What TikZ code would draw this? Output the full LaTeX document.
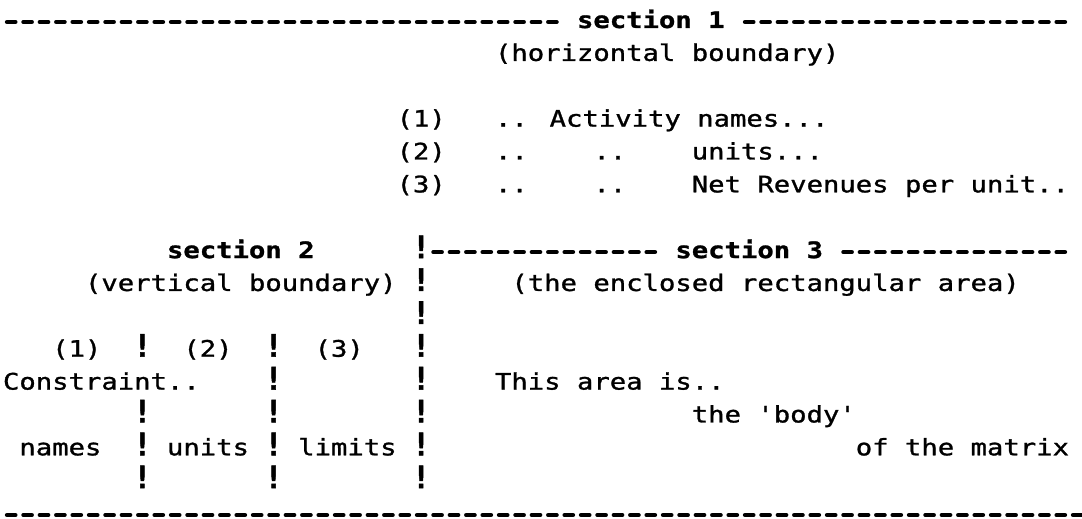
\documentclass[tikz,border=0pt]{standalone}
\usepackage{fontspec}
\newfontfamily\dmono[FakeStretch=1.2, FakeBold=1.2]{DejaVu Sans Mono}
\newfontfamily\dbang[FakeBold=1.5]{DejaVu Sans Mono Bold}
\newcommand\dashrow[4]{%
  \coordinate (#1s) at ({cx(#3)+3.95},{ry(#2)-6});
  \coordinate (#1e) at ({cx(#4)+3.95+8.5},{ry(#2)-6});
  \draw[rulestyle] (#1s) -- (#1e);}
\begin{document}
\begin{tikzpicture}[x=1pt,y=-1pt,
  declare function={cx(\c)=3+16.4*\c; ry(\r)=28+32.87*\r;},
  txt/.style={anchor=base west, inner sep=0pt, outer sep=0pt, font=\dmono\fontsize{22.7}{22.7}\selectfont},
  btxt/.style={anchor=base west, inner sep=0pt, outer sep=0pt, font=\dmono\bfseries\fontsize{22.7}{22.7}\selectfont},
  bang/.style={anchor=base, inner sep=0pt, outer sep=0pt, font=\dbang\fontsize{31}{31}\selectfont},
  rulestyle/.style={line width=4.2pt, line cap=round, dash pattern=on 8.5pt off 7.9pt}]
\useasboundingbox (0,0) rectangle (1082,519);
% row 0
\dashrow{top1}{0}{0}{33}
\node[btxt] (sec1) at ({cx(35)},{ry(0)}) {section 1};
\dashrow{top2}{0}{45}{64}
% row 1
\node[txt] (hb) at ({cx(30)},{ry(1)}) {(horizontal boundary)};
% rows 3-5
\node[txt] (a1) at ({cx(24)},{ry(3)}) {(1)};
\node[txt] (a1d) at ({cx(30)},{ry(3)}) {.. Activity names...};
\node[txt] (a2) at ({cx(24)},{ry(4)}) {(2)};
\node[txt] (a2d) at ({cx(30)},{ry(4)}) {..};
\node[txt] (a2e) at ({cx(36)},{ry(4)}) {..};
\node[txt] (a2t) at ({cx(42)},{ry(4)}) {units...};
\node[txt] (a3) at ({cx(24)},{ry(5)}) {(3)};
\node[txt] (a3d) at ({cx(30)},{ry(5)}) {..};
\node[txt] (a3e) at ({cx(36)},{ry(5)}) {..};
\node[txt] (a3t) at ({cx(42)},{ry(5)}) {Net Revenues per unit..};
% row 7
\node[btxt] (sec2) at ({cx(10)},{ry(7)}) {section 2};
\node[bang] (b7) at ({cx(25.5)},{ry(7)}) {!};
\dashrow{mid1}{7}{26}{39}
\node[btxt] (sec3) at ({cx(41)},{ry(7)}) {section 3};
\dashrow{mid2}{7}{51}{64}
% row 8
\node[txt] (vb) at ({cx(5)},{ry(8)}) {(vertical boundary)};
\node[bang] (b8) at ({cx(25.5)},{ry(8)}) {!};
\node[txt] (era) at ({cx(31)},{ry(8)}) {(the enclosed rectangular area)};
% row 9
\node[bang] (b9) at ({cx(25.5)},{ry(9)}) {!};
% row 10
\node[txt] (c1) at ({cx(3)},{ry(10)}) {(1)};
\node[bang] (b10a) at ({cx(8.5)},{ry(10)}) {!};
\node[txt] (c2) at ({cx(11)},{ry(10)}) {(2)};
\node[bang] (b10b) at ({cx(16.5)},{ry(10)}) {!};
\node[txt] (c3) at ({cx(19)},{ry(10)}) {(3)};
\node[bang] (b10c) at ({cx(25.5)},{ry(10)}) {!};
% row 11
\node[txt] (cons) at ({cx(0)},{ry(11)}) {Constraint..};
\node[bang] (b11b) at ({cx(16.5)},{ry(11)}) {!};
\node[bang] (b11c) at ({cx(25.5)},{ry(11)}) {!};
\node[txt] (tai) at ({cx(30)},{ry(11)}) {This area is..};
% row 12
\node[bang] (b12a) at ({cx(8.5)},{ry(12)}) {!};
\node[bang] (b12b) at ({cx(16.5)},{ry(12)}) {!};
\node[bang] (b12c) at ({cx(25.5)},{ry(12)}) {!};
\node[txt] (body) at ({cx(42)},{ry(12)}) {the 'body'};
% row 13
\node[txt] (nm) at ({cx(1)},{ry(13)}) {names};
\node[bang] (b13a) at ({cx(8.5)},{ry(13)}) {!};
\node[txt] (un) at ({cx(10)},{ry(13)}) {units};
\node[bang] (b13b) at ({cx(16.5)},{ry(13)}) {!};
\node[txt] (lm) at ({cx(18)},{ry(13)}) {limits};
\node[bang] (b13c) at ({cx(25.5)},{ry(13)}) {!};
\node[txt] (otm) at ({cx(52)},{ry(13)}) {of the matrix};
% row 14
\node[bang] (b14a) at ({cx(8.5)},{ry(14)}) {!};
\node[bang] (b14b) at ({cx(16.5)},{ry(14)}) {!};
\node[bang] (b14c) at ({cx(25.5)},{ry(14)}) {!};
% row 15
\dashrow{bot}{15}{0}{65}
\end{tikzpicture}
\end{document}
